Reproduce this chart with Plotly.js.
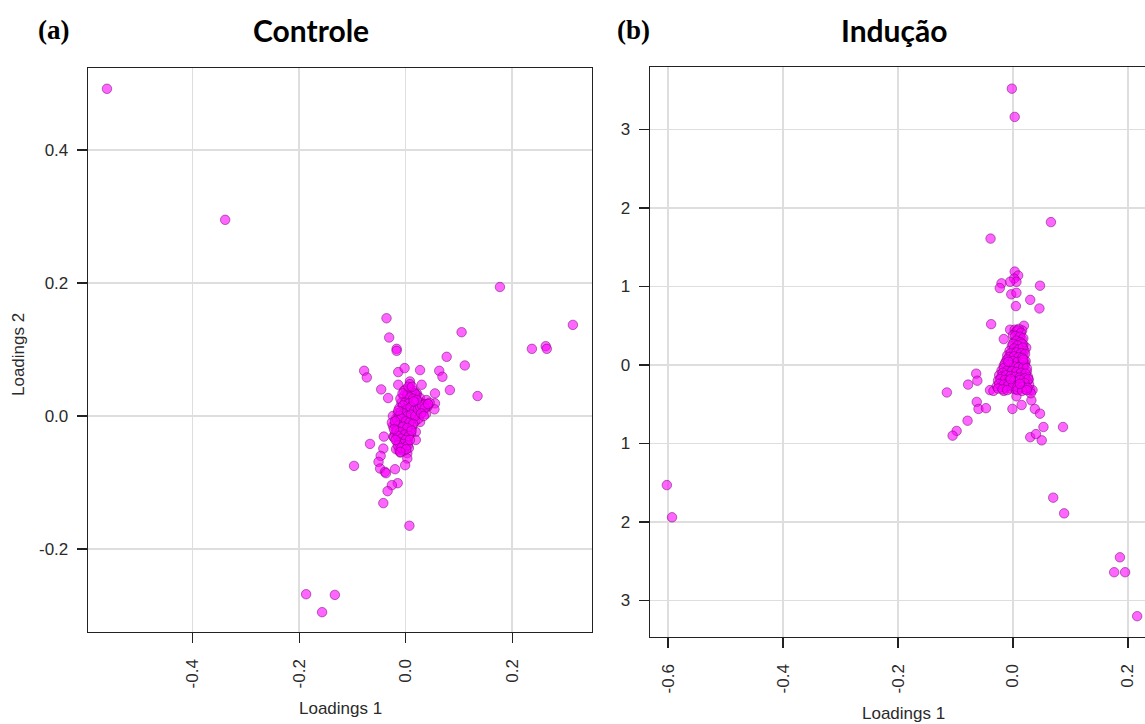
<!DOCTYPE html>
<html>
<head>
<meta charset="utf-8">
<script src="https://cdn.plot.ly/plotly-3.0.1.min.js"></script>
<style>
html,body{margin:0;padding:0;background:#fff;overflow:hidden;}
#chart{width:1145px;height:724px;}
</style>
</head>
<body>
<div id="chart"></div>
<script>
// ---- Panel (a) Controle: loadings [Loadings 1, Loadings 2] ----
const ctrlOutliers = [
  [-0.561,0.492],[-0.339,0.295],[0.177,0.194],[0.314,0.137],[0.237,0.101],[0.263,0.105],[0.265,0.101],
  [0.105,0.126],[0.111,0.076],[0.135,0.030],[0.077,0.089],[0.083,0.039],[0.063,0.068],[0.069,0.059],
  [-0.036,0.147],[-0.031,0.118],[-0.017,0.101],[-0.017,0.098],[-0.078,0.068],[-0.073,0.058],
  [-0.014,0.066],[-0.002,0.072],[0.027,0.069],[-0.046,0.040],[-0.033,0.027],[0.008,0.052],
  [-0.014,0.047],[0.030,0.047],[0.021,0.034],[0.027,0.027],[0.055,0.034],[0.039,0.024],
  [0.055,0.019],[0.054,0.010],[0.041,0.014],[0.027,-0.009],[0.019,-0.024],[0.019,-0.036],
  [-0.041,-0.031],[-0.067,-0.042],[-0.042,-0.049],[-0.047,-0.060],[-0.051,-0.069],[-0.048,-0.079],
  [-0.039,-0.084],[-0.037,-0.086],[-0.097,-0.075],[-0.020,-0.080],[-0.013,-0.051],[-0.010,-0.055],
  [0.003,-0.056],[0.003,-0.064],[-0.001,-0.074],[-0.015,-0.101],[-0.026,-0.104],[-0.034,-0.113],
  [-0.042,-0.131],[0.007,-0.165],[-0.187,-0.268],[-0.133,-0.269],[-0.157,-0.295],
  [-0.024,-0.015],[-0.023,-0.031],[-0.017,-0.021]
];
const ctrlCore = [
  [0.000,0.040],[0.008,0.042],[0.015,0.038],[0.005,0.035],[0.012,0.030],[-0.004,0.030],[0.018,0.028],
  [0.002,0.025],[0.010,0.022],[-0.008,0.020],[0.016,0.018],[0.004,0.015],[-0.012,0.012],[0.012,0.010],
  [0.020,0.012],[-0.002,0.008],[0.006,0.004],[-0.015,0.004],[0.014,0.002],[0.022,0.004],[-0.006,0.000],
  [0.002,-0.004],[-0.018,-0.004],[0.010,-0.006],[0.018,-0.008],[-0.010,-0.010],[-0.002,-0.012],
  [0.006,-0.014],[-0.020,-0.014],[0.012,-0.016],[-0.014,-0.020],[-0.006,-0.022],[0.002,-0.024],
  [-0.020,-0.026],[0.010,-0.026],[-0.012,-0.030],[-0.004,-0.032],[0.004,-0.036],[-0.016,-0.038],
  [-0.008,-0.040],[0.000,-0.044],[-0.012,-0.046],[0.006,-0.048],[-0.004,-0.052],[-0.018,-0.050],
  [0.003,-0.040],[0.025,0.016],[0.030,0.010],[0.028,0.020],[0.035,0.018],[0.040,0.015],[0.045,0.020],
  [0.033,0.006],[0.038,0.003],[0.024,-0.004],[-0.024,0.000],[-0.026,-0.010],[-0.022,-0.032],
  [0.008,0.048],[0.014,0.000],[0.000,0.012],[0.009,-0.020],[-0.010,0.026],[0.020,0.032],
  [-0.003,0.038],[0.011,0.036],[0.017,0.034],[0.003,0.032],[0.008,0.028],[0.014,0.026],[-0.001,0.020],
  [0.006,0.019],[0.013,0.016],[0.019,0.020],[-0.005,0.016],[0.002,0.010],[0.009,0.013],[0.016,0.008],
  [-0.009,0.006],[-0.004,0.004],[0.003,0.000],[0.010,0.002],[0.018,0.000],[-0.012,0.000],[-0.016,-0.006],
  [-0.008,-0.004],[0.000,-0.008],[0.007,-0.010],[0.014,-0.012],[-0.013,-0.014],[-0.005,-0.016],
  [0.003,-0.018],[-0.017,-0.022],[-0.010,-0.024],[-0.002,-0.028],[0.006,-0.030],[-0.015,-0.030],
  [-0.008,-0.034],[0.000,-0.036],[-0.012,-0.040],[-0.004,-0.042],[0.004,-0.044],[-0.015,-0.044],
  [-0.008,-0.048],[0.001,-0.050],[-0.010,-0.054],[0.023,0.010],[0.027,0.014],[0.031,0.016],[0.036,0.012],
  [0.042,0.018],[0.029,0.004],[0.034,0.000],[0.021,0.024],[-0.020,-0.008],[-0.022,-0.020],[-0.019,-0.036],
  [0.005,0.044],[0.012,0.044],[-0.006,0.034],[0.015,0.022],[-0.014,0.008],[0.008,-0.036],[0.011,-0.022]
];

// ---- Panel (b) Indução ----
const inducOutliers = [
  [-0.002,3.52],[0.003,3.16],[0.066,1.82],[-0.039,1.61],[-0.602,-1.53],[-0.593,-1.94],[0.070,-1.69],
  [0.089,-1.89],[0.186,-2.45],[0.176,-2.64],[0.195,-2.64],[0.216,-3.20],
  [0.003,1.19],[0.009,1.14],[0.002,1.10],[0.006,1.06],[-0.005,1.06],[-0.020,1.04],[-0.023,0.98],
  [-0.003,0.90],[0.006,0.92],[0.047,1.01],[0.030,0.83],[0.046,0.72],[0.005,0.75],
  [-0.038,0.52],[0.019,0.50],[-0.005,0.45],[0.003,0.45],[-0.016,0.33],
  [0.023,0.22],[0.021,0.02],[0.027,-0.19],[0.030,-0.32],[0.034,-0.32],
  [-0.064,-0.11],[-0.062,-0.20],[-0.078,-0.25],[-0.115,-0.35],
  [-0.040,-0.32],[-0.034,-0.33],[-0.016,-0.33],
  [0.006,-0.40],[0.015,-0.51],[-0.001,-0.56],[0.032,-0.45],[0.031,-0.36],
  [-0.063,-0.47],[-0.060,-0.56],[-0.047,-0.55],[0.038,-0.56],[0.047,-0.62],[-0.079,-0.71],
  [-0.098,-0.84],[-0.105,-0.90],[0.053,-0.79],[0.087,-0.79],[0.030,-0.92],[0.040,-0.88],[0.050,-0.96]
];
const inducCore = [
  [0.005,0.42],[0.012,0.40],[0.008,0.35],[0.015,0.33],[0.002,0.30],[0.010,0.28],[0.018,0.26],
  [-0.002,0.24],[0.006,0.22],[0.014,0.20],[0.020,0.18],[-0.006,0.18],[0.002,0.15],[0.010,0.14],
  [0.018,0.12],[-0.010,0.12],[-0.002,0.09],[0.006,0.08],[0.014,0.06],[0.022,0.05],[-0.012,0.05],
  [-0.004,0.02],[0.004,0.01],[0.012,0.00],[0.020,-0.01],[-0.016,-0.01],[-0.008,-0.04],[0.000,-0.05],
  [0.008,-0.06],[0.016,-0.07],[0.024,-0.08],[-0.020,-0.07],[-0.012,-0.10],[-0.004,-0.11],[0.004,-0.12],
  [0.012,-0.13],[0.020,-0.14],[0.026,-0.15],[-0.024,-0.13],[-0.016,-0.16],[-0.008,-0.17],[0.000,-0.18],
  [0.008,-0.19],[0.016,-0.20],[0.024,-0.21],[-0.026,-0.20],[-0.018,-0.22],[-0.010,-0.23],[-0.002,-0.24],
  [0.006,-0.25],[0.014,-0.26],[0.022,-0.27],[0.028,-0.25],[-0.028,-0.27],[-0.020,-0.28],[-0.012,-0.29],
  [-0.004,-0.30],[0.004,-0.31],[0.012,-0.30],[0.020,-0.31],[0.000,0.38],[0.016,0.44],[0.010,0.46],
  [0.004,0.07],[-0.008,-0.14],[0.010,-0.22],
  [0.008,0.44],[0.014,0.41],[0.004,0.37],[0.012,0.36],[0.018,0.34],[0.006,0.31],[0.013,0.29],
  [0.000,0.27],[0.016,0.27],[0.008,0.25],[0.002,0.21],[0.010,0.20],[0.017,0.22],[-0.004,0.15],
  [0.006,0.16],[0.014,0.15],[0.021,0.14],[-0.007,0.10],[0.002,0.11],[0.010,0.10],[0.016,0.09],
  [-0.010,0.07],[0.000,0.05],[0.008,0.04],[0.018,0.03],[-0.014,0.02],[-0.006,0.00],[0.002,-0.02],
  [0.010,-0.03],[0.018,-0.03],[0.024,-0.04],[-0.016,-0.04],[-0.010,-0.07],[-0.002,-0.08],[0.006,-0.09],
  [0.014,-0.10],[0.022,-0.11],[-0.018,-0.10],[-0.020,-0.15],[-0.012,-0.13],[-0.004,-0.14],[0.004,-0.15],
  [0.012,-0.16],[0.020,-0.17],[0.027,-0.18],[-0.022,-0.18],[-0.014,-0.19],[-0.006,-0.20],[0.002,-0.21],
  [0.012,-0.19],[0.020,-0.23],[-0.024,-0.24],[-0.016,-0.25],[-0.008,-0.26],[0.000,-0.27],[0.008,-0.28],
  [0.016,-0.28],[0.025,-0.29],[-0.026,-0.30],[-0.018,-0.31],[-0.010,-0.32],[0.008,-0.32],[0.016,-0.33],
  [0.024,-0.32],[0.018,0.07],[-0.008,0.04],[0.012,-0.24],[-0.004,-0.18]
];

// ---- Ticks & labels ----
const ctrlXTicks = [-0.4,-0.2,0.0,0.2];
const ctrlXTickText = ["-0.4","-0.2","0.0","0.2"];
const ctrlYTicks = [-0.2,0.0,0.2,0.4];
const ctrlYTickText = ["-0.2","0.0","0.2","0.4"];
const inducXTicks = [-0.6,-0.4,-0.2,0.0,0.2];
const inducXTickText = ["-0.6","-0.4","-0.2","0.0","0.2"];
const inducYTicks = [3,2,1,0,-1,-2,-3];
const inducYTickText = ["3","2","1","0","1","2","3"];
const panelTags = ["(a)","(b)"];
const panelTitles = ["Controle","Indução"];
const xLabel = "Loadings 1";
const yLabel = "Loadings 2";

const W = 1145, H = 724;
const px = v => v / W;
const py = v => 1 - v / H;

const ctrlPts = ctrlOutliers.concat(ctrlCore);
const inducPts = inducOutliers.concat(inducCore);

const marker = {
  size: 9.5,
  color: 'rgba(255,0,255,0.6)',
  line: {color: 'rgba(110,0,110,0.5)', width: 1}
};

const traces = [
  {type:'scatter', mode:'markers', x: ctrlPts.map(p=>p[0]), y: ctrlPts.map(p=>p[1]),
   xaxis:'x', yaxis:'y', marker: marker, hoverinfo:'x+y'},
  {type:'scatter', mode:'markers', x: inducPts.map(p=>p[0]), y: inducPts.map(p=>p[1]),
   xaxis:'x2', yaxis:'y2', marker: marker, hoverinfo:'x+y'}
];

const tickFont = {family:'Liberation Sans, Arial, sans-serif', size:17, color:'#2a2a2a'};
const axBase = {
  showgrid:true, gridcolor:'#dedede', gridwidth:1.5, zeroline:false,
  showline:true, linecolor:'#222', linewidth:1.3,
  ticks:'outside', ticklen:10, tickwidth:1.3, tickcolor:'#222',
  tickfont: tickFont, automargin:false, tickmode:'array', fixedrange:true
};
const xAx = Object.assign({}, axBase, {tickangle:-90, ticklabelstandoff:9, mirror:true});
const yAx = Object.assign({}, axBase, {ticklabelstandoff:5});

const layout = {
  width: W, height: H,
  margin:{l:0,r:0,t:0,b:0},
  paper_bgcolor:'#fff', plot_bgcolor:'#fff',
  showlegend:false,
  xaxis: Object.assign({}, xAx, {
    domain:[px(88), px(592)], range:[-0.5966, 0.3499], anchor:'y',
    tickvals: ctrlXTicks, ticktext: ctrlXTickText
  }),
  yaxis: Object.assign({}, yAx, {
    domain:[py(632), py(68)], range:[-0.3248, 0.5233], anchor:'x',
    tickvals: ctrlYTicks, ticktext: ctrlYTickText, mirror:true
  }),
  xaxis2: Object.assign({}, xAx, {
    domain:[px(650), 1], range:[-0.6313, 0.2296], anchor:'y2',
    tickvals: inducXTicks, ticktext: inducXTickText
  }),
  yaxis2: Object.assign({}, yAx, {
    domain:[py(637), py(67)], range:[-3.465, 3.796], anchor:'x2',
    tickvals: inducYTicks, ticktext: inducYTickText, mirror:false
  }),
  annotations: [
    {text:'<b>'+panelTags[0]+'</b>', x:px(53), y:py(30), xref:'paper', yref:'paper', showarrow:false,
     xanchor:'center', yanchor:'middle', font:{family:'Liberation Serif, Times New Roman, serif', size:27, color:'#000'}},
    {text:'<b>'+panelTitles[0]+'</b>', x:px(311), y:py(30), xref:'paper', yref:'paper', showarrow:false,
     xanchor:'center', yanchor:'middle', font:{family:'Lato, Open Sans, sans-serif', size:30, color:'#000'}},
    {text:'<b>'+panelTags[1]+'</b>', x:px(633), y:py(30), xref:'paper', yref:'paper', showarrow:false,
     xanchor:'center', yanchor:'middle', font:{family:'Liberation Serif, Times New Roman, serif', size:27, color:'#000'}},
    {text:'<b>'+panelTitles[1]+'</b>', x:px(894), y:py(30), xref:'paper', yref:'paper', showarrow:false,
     xanchor:'center', yanchor:'middle', font:{family:'Lato, Open Sans, sans-serif', size:30, color:'#000'}},
    {text:xLabel, x:px(340), y:py(708), xref:'paper', yref:'paper', showarrow:false,
     xanchor:'center', yanchor:'middle', font:{family:'Liberation Sans, Arial, sans-serif', size:17, color:'#2a2a2a'}},
    {text:yLabel, x:px(18), y:py(355), xref:'paper', yref:'paper', showarrow:false, textangle:-90,
     xanchor:'center', yanchor:'middle', font:{family:'Liberation Sans, Arial, sans-serif', size:17, color:'#2a2a2a'}},
    {text:xLabel, x:px(903), y:py(713), xref:'paper', yref:'paper', showarrow:false,
     xanchor:'center', yanchor:'middle', font:{family:'Liberation Sans, Arial, sans-serif', size:17, color:'#2a2a2a'}}
  ]
};

Plotly.newPlot('chart', traces, layout, {staticPlot:true, displayModeBar:false});
</script>
</body>
</html>
